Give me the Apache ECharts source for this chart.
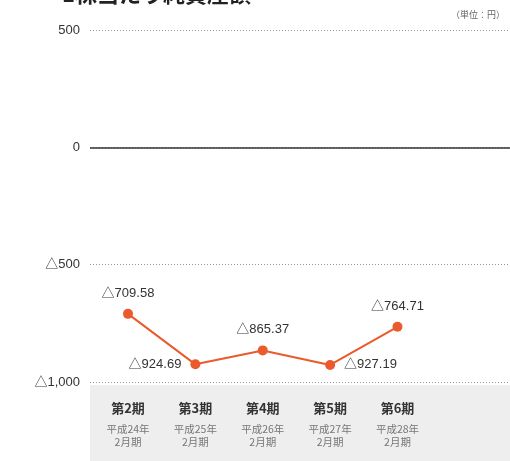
<!DOCTYPE html>
<html><head><meta charset="utf-8">
<script src="https://cdn.jsdelivr.net/npm/echarts@6/dist/echarts.min.js"></script>
<style>html,body{margin:0;padding:0;background:#fff}#c{width:510px;height:461px}</style>
</head><body><div id="c"></div>
<script>
const periods = ['第2期','第3期','第4期','第5期','第6期'];
const eras = ['平成24年','平成25年','平成26年','平成27年','平成28年'];
const months = ['2月期','2月期','2月期','2月期','2月期'];
const values = [-709.58, -924.69, -865.37, -927.19, -764.71];
const labelPos = ['top','left','top','right','top'];

function fmt(v){
  const a = Math.abs(v);
  const s = a.toLocaleString('en-US',{minimumFractionDigits: a%1?2:0, maximumFractionDigits:2});
  return v < 0 ? '△' + s : s;
}
const font = '"Liberation Sans","Noto Sans CJK JP",sans-serif';
const cjk = '"Noto Sans CJK JP",sans-serif';

const chart = echarts.init(document.getElementById('c'));
chart.setOption({
  animation:false,
  graphic:[
    {type:'rect', left:90, top:385, shape:{width:420, height:76}, style:{fill:'#eeeeee'}, z:-10},
    {type:'text', left:62, top:-17, style:{text:'1株当たり純資産額', font:'bold 22px '+cjk, fill:'#222'}},
    {type:'text', right:5, top:10, style:{text:'（単位：円）', font:'9px '+cjk, fill:'#666'}}
  ],
  grid:{left:90, right:0, top:30, bottom:79},
  xAxis:{
    type:'value', min:-0.564, max:5.67,
    axisLine:{show:false}, axisTick:{show:false}, splitLine:{show:false},
    axisLabel:{
      customValues:[0,1,2,3,4], margin:15, interval:0,
      formatter:(v)=>{const i=Math.round(v); return '{a|'+periods[i]+'}\n{b|'+eras[i]+'}\n{b|'+months[i]+'}';},
      rich:{
        a:{fontFamily:cjk, fontSize:13, fontWeight:'bold', color:'#333', lineHeight:26, padding:[0,0,3,0]},
        b:{fontFamily:cjk, fontSize:10.5, color:'#777', lineHeight:13}
      }
    }
  },
  yAxis:{
    type:'value', min:-1000, max:500, interval:500,
    axisLine:{show:false}, axisTick:{show:false},
    axisLabel:{formatter:fmt, fontFamily:font, fontSize:13, color:'#333', margin:10},
    splitLine:{lineStyle:{type:[1,2], color:'#999', width:1}}
  },
  series:[{
    type:'line',
    data: values.map((v,i)=>({value:[i,v], label:{position:labelPos[i]}})),
    symbol:'circle', symbolSize:10,
    lineStyle:{color:'#ea5a2c', width:2},
    itemStyle:{color:'#ea5a2c'},
    label:{show:true, formatter:(p)=>fmt(p.value[1]), fontFamily:font, fontSize:13, color:'#333', distance:9},
    markLine:{silent:true, symbol:'none', label:{show:false}, lineStyle:{color:'#333', type:'solid', width:1.5}, data:[{yAxis:0}]},
    z:5
  }]
});
</script></body></html>
